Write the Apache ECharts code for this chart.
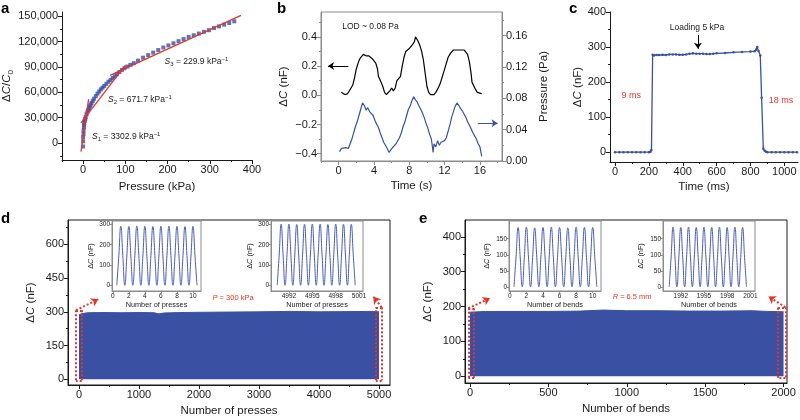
<!DOCTYPE html>
<html>
<head>
<meta charset="utf-8">
<title>sensor response</title>
<script src="https://cdn.jsdelivr.net/npm/echarts@6.0.0/dist/echarts.min.js"></script>
<style>
  html, body { margin: 0; padding: 0; background: #fff; }
  #main { width: 800px; height: 420px; }
</style>
</head>
<body>
<div id="main"></div>
<script>
// a: sensitivity, pressure (kPa) vs dC/C0
var aPressure = [0, 0, 0, 1, 1, 2, 2, 3, 4, 5, 6, 8, 10, 12, 14, 16, 18, 20, 23, 26,
  30, 34, 38, 42, 46, 50, 55, 60, 65, 70, 75, 80, 86, 92, 98, 105, 112, 120, 130, 142,
  154, 166, 178, 190, 202, 214, 226, 238, 250, 262, 274, 286, 298, 310, 322, 334, 346, 358];
var aRatio = [-4000, 2000, 7000, 11000, 15000, 18500, 21500, 24000, 26500, 28500,
  30500, 34000, 36500, 39000, 41500, 43500, 45500, 47500, 50000, 52500,
  55500, 58500, 61000, 63500, 65500, 67500, 70000, 72500, 74500, 77000,
  79000, 81500, 84000, 86500, 88500, 90500, 92500, 94500, 97500, 101000,
  104000, 107000, 110000, 113000, 115500, 118000, 120500, 123000, 125500, 127500,
  129500, 131500, 133500, 136000, 138000, 140000, 142000, 144000];
var aFitS1 = [[-5, -10000], [13, 52000]];
var aFitS2 = [[-5, 24000], [100, 92000]];
var aFitS3 = [[64, 80000], [374, 151000]];
var aXTicks = [0, 100, 200, 300, 400];
var aYTicks = [0, 30000, 60000, 90000, 120000, 150000];

// b: limit of detection, time (s)
var bCapacitance = [[0.3, 0.02], [0.5, 0.015], [0.7, 0.005], [1.0, 0.01], [1.2, 0.02], [1.4, 0.05],
  [1.6, 0.07], [1.8, 0.12], [2.0, 0.18], [2.2, 0.22], [2.4, 0.25], [2.6, 0.26], [2.8, 0.28],
  [3.0, 0.29], [3.1, 0.27], [3.2, 0.28], [3.4, 0.27], [3.6, 0.26], [3.8, 0.25], [4.0, 0.24],
  [4.2, 0.22], [4.4, 0.18], [4.5, 0.13], [4.6, 0.14], [4.8, 0.09], [5.0, 0.06], [5.2, 0.02],
  [5.4, 0.005], [5.6, 0.01], [5.8, 0.03], [6.0, 0.05], [6.2, 0.03], [6.4, 0.05], [6.6, 0.10],
  [6.8, 0.09], [7.0, 0.13], [7.2, 0.20], [7.4, 0.26], [7.6, 0.30], [7.8, 0.31], [8.0, 0.32],
  [8.2, 0.33], [8.4, 0.35], [8.6, 0.37], [8.7, 0.40], [8.8, 0.39], [9.0, 0.37], [9.2, 0.34],
  [9.4, 0.30], [9.6, 0.24], [9.8, 0.15], [10.0, 0.06], [10.2, 0.02], [10.4, 0.005], [10.6, 0.0],
  [10.8, 0.005], [11.0, 0.02], [11.2, 0.04], [11.5, 0.08], [11.8, 0.14], [12.1, 0.20], [12.4, 0.26],
  [12.7, 0.29], [13.0, 0.31], [13.2, 0.30], [13.4, 0.31], [13.6, 0.30], [13.8, 0.31], [14.0, 0.30],
  [14.2, 0.31], [14.4, 0.30], [14.6, 0.28], [14.8, 0.23], [15.0, 0.15], [15.1, 0.09], [15.3, 0.08],
  [15.5, 0.04], [15.7, 0.02], [16.0, 0.015], [16.2, 0.01]];
var bPressure = [[0.1, 0.012], [0.3, 0.016], [0.5, 0.014], [0.8, 0.017], [1.1, 0.016], [1.3, 0.022],
  [1.5, 0.028], [1.7, 0.036], [1.9, 0.044], [2.1, 0.050], [2.3, 0.058], [2.5, 0.066], [2.7, 0.074],
  [2.9, 0.071], [3.1, 0.065], [3.3, 0.068], [3.5, 0.063], [3.7, 0.062], [3.9, 0.058], [4.1, 0.052],
  [4.3, 0.047], [4.5, 0.043], [4.7, 0.036], [4.9, 0.030], [5.1, 0.024], [5.3, 0.020], [5.5, 0.016],
  [5.7, 0.011], [5.9, 0.012], [6.1, 0.017], [6.3, 0.019], [6.5, 0.022], [6.7, 0.024], [6.9, 0.030],
  [7.1, 0.036], [7.3, 0.044], [7.5, 0.050], [7.7, 0.058], [7.9, 0.066], [8.1, 0.070], [8.3, 0.077],
  [8.5, 0.082], [8.7, 0.078], [8.9, 0.075], [9.1, 0.070], [9.3, 0.066], [9.5, 0.061], [9.7, 0.055],
  [9.9, 0.048], [10.1, 0.042], [10.3, 0.034], [10.5, 0.028], [10.7, 0.011], [10.8, 0.022],
  [11.0, 0.018], [11.2, 0.026], [11.4, 0.020], [11.6, 0.024], [11.8, 0.022], [12.0, 0.026],
  [12.2, 0.030], [12.4, 0.038], [12.6, 0.046], [12.8, 0.056], [13.0, 0.063], [13.2, 0.070],
  [13.4, 0.074], [13.6, 0.071], [13.8, 0.067], [14.0, 0.064], [14.2, 0.060], [14.4, 0.056],
  [14.6, 0.050], [14.8, 0.046], [15.0, 0.041], [15.2, 0.036], [15.4, 0.032], [15.6, 0.028],
  [15.8, 0.022], [16.0, 0.018], [16.1, 0.012], [16.2, 0.006]];
var bXTicks = [0, 4, 8, 12, 16];
var bCapTicks = [-0.4, -0.2, 0, 0.2, 0.4];
var bPresTicks = [0, 0.04, 0.08, 0.12, 0.16];

// c: response time, time (ms) vs dC (nF)
var cResponse = [[0, 0], [25, 0], [50, 0], [75, 0], [100, 0], [125, 0], [150, 0], [175, 0], [200, 0],
  [210, 1], [215, 6], [222, 278], [230, 276], [245, 277], [260, 277], [280, 278], [300, 277],
  [320, 279], [340, 279], [360, 279], [380, 278], [400, 278], [420, 279], [440, 281], [460, 282],
  [480, 281], [500, 281], [520, 281], [540, 280], [560, 280], [580, 281], [600, 282], [650, 283],
  [700, 285], [750, 286], [800, 287], [825, 288], [835, 292], [840, 300], [848, 289], [858, 276],
  [866, 155], [876, 10], [884, 4], [892, 1], [900, 0], [925, 0], [950, 0], [975, 0], [1000, 0],
  [1025, 0], [1050, 0], [1075, 0]];
var cXTicks = [0, 200, 400, 600, 800, 1000];
var cYTicks = [0, 100, 200, 300, 400];

// d: 5000 presses at 300 kPa, top of the band of cycles
var dEnvelope = [[0, 286], [40, 292], [150, 296], [400, 297], [700, 296], [1000, 297], [1250, 296],
  [1330, 291], [1420, 295], [1700, 297], [2000, 298], [2500, 299], [3000, 300], [3500, 302],
  [4000, 300], [4500, 301], [4900, 302], [5000, 300]];
var dXTicks = [0, 1000, 2000, 3000, 4000, 5000];
var dYTicks = [0, 150, 300, 450, 600];

// first and last cycles (insets of d and e)
var firstCyclesX = [0.5, 0.75, 1, 1.25, 1.5, 1.75, 2, 2.25, 2.5, 2.75, 3, 3.25, 3.5, 3.75, 4, 4.25,
  4.5, 4.75, 5, 5.25, 5.5, 5.75, 6, 6.25, 6.5, 6.75, 7, 7.25, 7.5, 7.75, 8, 8.25, 8.5, 8.75, 9, 9.25,
  9.5, 9.75, 10, 10.25, 10.5];
var dLastX = [4990.5, 4990.75, 4991, 4991.25, 4991.5, 4991.75, 4992, 4992.25, 4992.5, 4992.75,
  4993, 4993.25, 4993.5, 4993.75, 4994, 4994.25, 4994.5, 4994.75, 4995, 4995.25, 4995.5, 4995.75,
  4996, 4996.25, 4996.5, 4996.75, 4997, 4997.25, 4997.5, 4997.75, 4998, 4998.25, 4998.5, 4998.75,
  4999, 4999.25, 4999.5, 4999.75, 5000, 5000.25, 5000.5];
var dFirstY = [2, 146, 290, 146, 2, 145, 289, 145, 2, 146, 291, 146, 2, 145, 290, 145, 2, 146, 289, 146,
  2, 145, 290, 145, 2, 146, 291, 146, 2, 145, 290, 145, 2, 146, 289, 146, 2, 145, 290, 145, 2];
var dLastY = [2, 150, 300, 150, 2, 151, 301, 151, 2, 150, 299, 150, 2, 151, 300, 151, 2, 150, 301, 150,
  2, 151, 300, 151, 2, 150, 299, 150, 2, 151, 301, 151, 2, 150, 300, 150, 2, 151, 300, 151, 2];
var dInsetXTicks = [0, 2, 4, 6, 8, 10];
var dLastXTicks = [4992, 4995, 4998, 5001];
var dInsetYTicks = [0, 100, 200, 300];

// e: 2000 bends at R = 6.5 mm
var eEnvelope = [[0, 184], [100, 186], [300, 186], [500, 186], [700, 187], [850, 190], [1000, 188],
  [1200, 188], [1400, 187], [1600, 187], [1800, 188], [1900, 186], [2000, 185]];
var eLastX = [1990.5, 1990.75, 1991, 1991.25, 1991.5, 1991.75, 1992, 1992.25, 1992.5, 1992.75,
  1993, 1993.25, 1993.5, 1993.75, 1994, 1994.25, 1994.5, 1994.75, 1995, 1995.25, 1995.5, 1995.75,
  1996, 1996.25, 1996.5, 1996.75, 1997, 1997.25, 1997.5, 1997.75, 1998, 1998.25, 1998.5, 1998.75,
  1999, 1999.25, 1999.5, 1999.75, 2000, 2000.25, 2000.5];
var eFirstY = [1, 93, 185, 93, 1, 93, 186, 93, 1, 92, 184, 92, 1, 93, 185, 93, 1, 93, 186, 93,
  1, 92, 185, 92, 1, 93, 184, 93, 1, 93, 186, 93, 1, 92, 185, 92, 1, 93, 185, 93, 1];
var eLastY = [1, 93, 186, 93, 1, 93, 185, 93, 1, 93, 186, 93, 1, 92, 185, 92, 1, 93, 186, 93,
  1, 93, 185, 93, 1, 92, 186, 92, 1, 93, 185, 93, 1, 93, 186, 93, 1, 92, 185, 92, 1];
var eXTicks = [0, 500, 1000, 1500, 2000];
var eYTicks = [0, 100, 200, 300, 400];
var eLastXTicks = [1992, 1995, 1998, 2001];
var eInsetYTicks = [0, 50, 100, 150];

var font = 'Liberation Sans, Arial, Helvetica, sans-serif';
var ink = '#1a1a1a';
var frame = '#8c8c8c';
var blue = '#3a50a2';
var thinBlue = '#4a5bb0';
var red = '#e3342a';

function rich(size, color) {
  return {
    n: {fontSize: size, fontFamily: font, color: color, fill: color, lineHeight: size + 3},
    i: {fontSize: size, fontFamily: font, fontStyle: 'italic', color: color, fill: color, lineHeight: size + 3},
    sub: {fontSize: size * 0.7, fontFamily: font, color: color, fill: color, verticalAlign: 'bottom', lineHeight: size * 0.7},
    sup: {fontSize: size * 0.7, fontFamily: font, color: color, fill: color, verticalAlign: 'top', lineHeight: size * 0.7}
  };
}

function pairs(xs, ys) {
  return ys.map(function (v, i) { return [xs[i], v]; });
}

function plain(v) { return String(v); }

function valueAxis(grid, position, min, max, ticks, o) {
  o = o || {};
  var color = o.color || ink;
  var small = o.small;
  var axis = {
    type: 'value', gridIndex: grid, position: position, min: min, max: max,
    axisLine: {show: true, onZero: false, lineStyle: {color: color, width: 1}},
    axisTick: {show: true, length: small ? 2 : 4, customValues: ticks, lineStyle: {color: color, width: 1}},
    axisLabel: {customValues: ticks, formatter: o.format || plain, fontSize: small ? 6.5 : 11,
      fontFamily: font, color: ink, margin: small ? 2 : 4},
    splitLine: {show: false}
  };
  if (o.name) {
    var vertical = position === 'left' || position === 'right';
    axis.name = o.name;
    axis.nameLocation = 'middle';
    axis.nameGap = o.gap;
    axis.nameRotate = vertical ? 90 : 0;
    axis.nameTextStyle = {fontSize: small ? 7.3 : 11.5, fontFamily: font, color: ink, rich: rich(small ? 7.3 : 11.5, ink)};
  }
  return axis;
}

function minorAxis(grid, position, min, max, ticks, color) {
  return {
    type: 'value', gridIndex: grid, position: position, min: min, max: max,
    axisLine: {show: false, onZero: false}, axisLabel: {show: false}, splitLine: {show: false},
    axisTick: {show: true, length: 2, customValues: ticks, lineStyle: {color: color || ink}}
  };
}

function thousands(v) { return String(v).replace(/\B(?=(\d{3})+(?!\d))/g, ','); }
function oneDecimal(v) { return (v < 0 ? '\u2212' : '') + Math.abs(v).toFixed(1); }
function twoDecimals(v) { return v.toFixed(2); }

var dC = '{n|\u0394}{i|C}{n| (nF)}';
var insetBox = {show: true, borderColor: frame, borderWidth: 1, backgroundColor: '#fff'};

var option = {
  animation: false,
  textStyle: {fontFamily: font},
  grid: [
    {left: 62, top: 12, width: 190, height: 148},                                            // a
    {left: 321, top: 12, width: 181, height: 149, show: true, borderColor: frame},           // b
    {left: 610, top: 12, width: 188, height: 150},                                           // c
    {left: 68, top: 220, width: 322, height: 165, show: true, borderColor: ink},             // d
    Object.assign({left: 112, top: 221, width: 89, height: 70}, insetBox),                   // d first
    Object.assign({left: 271, top: 221, width: 92, height: 70}, insetBox),                   // d last
    {left: 465, top: 220, width: 322, height: 163, show: true, borderColor: ink},            // e
    Object.assign({left: 509, top: 221, width: 92, height: 70}, insetBox),                   // e first
    Object.assign({left: 663, top: 221, width: 92, height: 70}, insetBox)                    // e last
  ],
  xAxis: [
    valueAxis(0, 'bottom', -50, 400, aXTicks, {name: 'Pressure (kPa)', gap: 21}),            // 0
    minorAxis(0, 'bottom', -50, 400, [-50, 50, 150, 250, 350]),                              // 1
    valueAxis(1, 'bottom', -2, 18.5, bXTicks, {name: 'Time (s)', gap: 19, color: frame}),    // 2
    minorAxis(1, 'bottom', -2, 18.5, [-2, 2, 6, 10, 14, 18], frame),                         // 3
    valueAxis(2, 'bottom', -30, 1081, cXTicks, {name: 'Time (ms)', gap: 19}),                // 4
    minorAxis(2, 'bottom', -30, 1081, [100, 300, 500, 700, 900]),                            // 5
    valueAxis(3, 'bottom', -183, 5183, dXTicks, {name: 'Number of presses', gap: 20}),       // 6
    minorAxis(3, 'bottom', -183, 5183, [500, 1500, 2500, 3500, 4500]),                       // 7
    valueAxis(4, 'bottom', -0.1, 11, dInsetXTicks, {small: true, color: frame, name: 'Number of presses', gap: 10}), // 8
    valueAxis(5, 'bottom', 4989.7, 5001.5, dLastXTicks, {small: true, color: frame, name: 'Number of presses', gap: 10}), // 9
    valueAxis(6, 'bottom', -32, 2022, eXTicks, {name: 'Number of bends', gap: 20}),          // 10
    minorAxis(6, 'bottom', -32, 2022, [250, 750, 1250, 1750]),                               // 11
    valueAxis(7, 'bottom', -0.1, 11, dInsetXTicks, {small: true, color: frame, name: 'Number of bends', gap: 10}), // 12
    valueAxis(8, 'bottom', 1989.7, 2001.6, eLastXTicks, {small: true, color: frame, name: 'Number of bends', gap: 10}) // 13
  ],
  yAxis: [
    valueAxis(0, 'left', -20000, 155000, aYTicks, {format: thousands, name: '{n|\u0394}{i|C}{n|/}{i|C}{sub|0}', gap: 44}), // 0
    minorAxis(0, 'left', -20000, 155000, [-15000, 15000, 45000, 75000, 105000, 135000]),     // 1
    valueAxis(1, 'left', -0.45, 0.57, bCapTicks, {format: oneDecimal, name: dC, gap: 30, color: frame}), // 2
    minorAxis(1, 'left', -0.45, 0.57, [-0.3, -0.1, 0.1, 0.3, 0.5], frame),                   // 3
    valueAxis(1, 'right', 0, 0.19, bPresTicks, {format: twoDecimals, name: 'Pressure (Pa)', gap: 36, color: frame}), // 4
    minorAxis(1, 'right', 0, 0.19, [0.02, 0.06, 0.10, 0.14, 0.18], frame),                   // 5
    valueAxis(2, 'left', -28, 400, cYTicks, {name: dC, gap: 22}),                            // 6
    minorAxis(2, 'left', -28, 400, [50, 150, 250, 350]),                                     // 7
    valueAxis(3, 'left', -25, 708, dYTicks, {name: dC, gap: 30}),                            // 8
    minorAxis(3, 'left', -25, 708, [75, 225, 375, 525, 675]),                                // 9
    valueAxis(4, 'left', -26, 316, dInsetYTicks, {small: true, color: frame, name: dC, gap: 16}), // 10
    valueAxis(5, 'left', -26, 316, dInsetYTicks, {small: true, color: frame, name: dC, gap: 16}), // 11
    valueAxis(6, 'left', -19, 448, eYTicks, {name: dC, gap: 30}),                            // 12
    minorAxis(6, 'left', -19, 448, [50, 150, 250, 350]),                                     // 13
    valueAxis(7, 'left', -12, 205, eInsetYTicks, {small: true, color: frame, name: dC, gap: 17}), // 14
    valueAxis(8, 'left', -12, 205, eInsetYTicks, {small: true, color: frame, name: dC, gap: 17})  // 15
  ],
  series: [
    {type: 'scatter', xAxisIndex: 0, yAxisIndex: 0, data: pairs(aPressure, aRatio),
      symbol: 'rect', symbolSize: 4, itemStyle: {color: blue}},
    {type: 'line', xAxisIndex: 0, yAxisIndex: 0, data: aFitS1, symbol: 'none', lineStyle: {color: red, width: 1.3}},
    {type: 'line', xAxisIndex: 0, yAxisIndex: 0, data: aFitS2, symbol: 'none', lineStyle: {color: red, width: 1.3}},
    {type: 'line', xAxisIndex: 0, yAxisIndex: 0, data: aFitS3, symbol: 'none', lineStyle: {color: red, width: 1.3}},

    {type: 'line', xAxisIndex: 2, yAxisIndex: 2, data: bCapacitance, symbol: 'none',
      lineStyle: {color: '#000', width: 1.2},
      markLine: {silent: true, symbol: ['none', 'arrow'], symbolSize: 6, label: {show: false},
        lineStyle: {color: '#000', width: 1, type: 'solid'},
        data: [[{coord: [1.1, 0.2]}, {coord: [-1.2, 0.2]}]]}},
    {type: 'line', xAxisIndex: 2, yAxisIndex: 4, data: bPressure, symbol: 'none',
      lineStyle: {color: blue, width: 1.2},
      markLine: {silent: true, symbol: ['none', 'arrow'], symbolSize: 6, label: {show: false},
        lineStyle: {color: blue, width: 1, type: 'solid'},
        data: [[{coord: [15.75, 0.048]}, {coord: [18.0, 0.048]}]]}},

    {type: 'line', xAxisIndex: 4, yAxisIndex: 6, data: cResponse, symbol: 'circle', symbolSize: 2.5,
      itemStyle: {color: blue}, lineStyle: {color: blue, width: 1.3},
      markLine: {silent: true, symbol: ['none', 'arrow'], symbolSize: 6, label: {show: false},
        lineStyle: {color: '#000', width: 1, type: 'solid'},
        data: [[{coord: [490, 334]}, {coord: [490, 295]}]]}},

    {type: 'line', xAxisIndex: 6, yAxisIndex: 8, data: dEnvelope, symbol: 'none',
      lineStyle: {color: blue, width: 1}, areaStyle: {color: blue, opacity: 1, origin: 0},
      markLine: {silent: true, symbol: ['none', 'none'], symbolSize: 7, label: {show: false}, z: 10,
        lineStyle: {color: red, width: 2, type: [2, 2]},
        data: [
          [{coord: [-50, -4]}, {coord: [-50, 307]}], [{coord: [-50, 307]}, {coord: [45, 307]}],
          [{coord: [45, 307]}, {coord: [45, -4]}], [{coord: [45, -4]}, {coord: [-50, -4]}],
          [{coord: [4950, -4]}, {coord: [4950, 320]}], [{coord: [4950, 320]}, {coord: [5045, 320]}],
          [{coord: [5045, 320]}, {coord: [5045, -4]}], [{coord: [5045, -4]}, {coord: [4950, -4]}],
          [{coord: [-50, 307]}, {coord: [322, 356], symbol: 'arrow'}],
          [{coord: [5045, 320]}, {coord: [4905, 367], symbol: 'arrow'}]
        ]}},
    {type: 'line', xAxisIndex: 8, yAxisIndex: 10, data: pairs(firstCyclesX, dFirstY), symbol: 'none',
      smooth: 0.5, lineStyle: {color: thinBlue, width: 1}},
    {type: 'line', xAxisIndex: 9, yAxisIndex: 11, data: pairs(dLastX, dLastY), symbol: 'none',
      smooth: 0.5, lineStyle: {color: thinBlue, width: 1}},

    {type: 'line', xAxisIndex: 10, yAxisIndex: 12, data: eEnvelope, symbol: 'none',
      lineStyle: {color: blue, width: 1}, areaStyle: {color: blue, opacity: 1, origin: 0},
      markLine: {silent: true, symbol: ['none', 'none'], symbolSize: 7, label: {show: false}, z: 10,
        lineStyle: {color: red, width: 2, type: [2, 2]},
        data: [
          [{coord: [-11, -4]}, {coord: [-11, 195]}], [{coord: [-11, 195]}, {coord: [26, 195]}],
          [{coord: [26, 195]}, {coord: [26, -4]}], [{coord: [26, -4]}, {coord: [-11, -4]}],
          [{coord: [1965, -4]}, {coord: [1965, 198]}], [{coord: [1965, 198]}, {coord: [2012, 198]}],
          [{coord: [2012, 198]}, {coord: [2012, -4]}], [{coord: [2012, -4]}, {coord: [1965, -4]}],
          [{coord: [-11, 195]}, {coord: [128, 224], symbol: 'arrow'}],
          [{coord: [2012, 198]}, {coord: [1904, 229], symbol: 'arrow'}]
        ]}},
    {type: 'line', xAxisIndex: 12, yAxisIndex: 14, data: pairs(firstCyclesX, eFirstY), symbol: 'none',
      smooth: 0.5, lineStyle: {color: thinBlue, width: 1}},
    {type: 'line', xAxisIndex: 13, yAxisIndex: 15, data: pairs(eLastX, eLastY), symbol: 'none',
      smooth: 0.5, lineStyle: {color: thinBlue, width: 1}}
  ]
};

var chart = echarts.init(document.getElementById('main'));
chart.setOption(option);

// text notes placed through the axes
var notes = [
  {x: 0, y: 0, at: [21, 7400], text: '{i|S}{sub|1}{n| = 3302.9 kPa}{sup|\u22121}', size: 8.5, color: ink, align: 'left'},
  {x: 0, y: 0, at: [59, 51000], text: '{i|S}{sub|2}{n| = 671.7 kPa}{sup|\u22121}', size: 8.5, color: ink, align: 'left'},
  {x: 0, y: 0, at: [193, 96000], text: '{i|S}{sub|3}{n| = 229.9 kPa}{sup|\u22121}', size: 8.5, color: ink, align: 'left'},
  {x: 2, y: 2, at: [0.4, 0.47], text: '{n|LOD ~ 0.08 Pa}', size: 8.5, color: ink, align: 'left'},
  {x: 4, y: 6, at: [484, 354], text: '{n|Loading 5 kPa}', size: 8.5, color: ink, align: 'center'},
  {x: 4, y: 6, at: [95, 162], text: '{n|9 ms}', size: 9, color: red, align: 'center'},
  {x: 4, y: 6, at: [980, 148], text: '{n|18 ms}', size: 9, color: red, align: 'center'},
  {x: 6, y: 8, at: [2567, 361], text: '{i|P}{n| = 300 kPa}', size: 7.5, color: red, align: 'center'},
  {x: 10, y: 12, at: [1034, 228], text: '{i|R}{n| = 6.5 mm}', size: 7.5, color: red, align: 'center'}
];
var graphics = notes.map(function (t) {
  var p = chart.convertToPixel({xAxisIndex: t.x, yAxisIndex: t.y}, t.at);
  return {type: 'text', x: p[0], y: p[1], z: 100,
    style: {text: t.text, rich: rich(t.size, t.color), align: t.align, verticalAlign: 'middle',
      fontSize: t.size, fontFamily: font, fill: t.color}};
});
[['a', 1, 1], ['b', 277, 1], ['c', 569, 1], ['d', 1, 211], ['e', 419, 211]].forEach(function (l) {
  graphics.push({type: 'text', left: l[1], top: l[2],
    style: {text: l[0], fontSize: 15, fontWeight: 'bold', fontFamily: font, fill: '#000'}});
});
chart.setOption({graphic: graphics});
</script>
</body>
</html>
